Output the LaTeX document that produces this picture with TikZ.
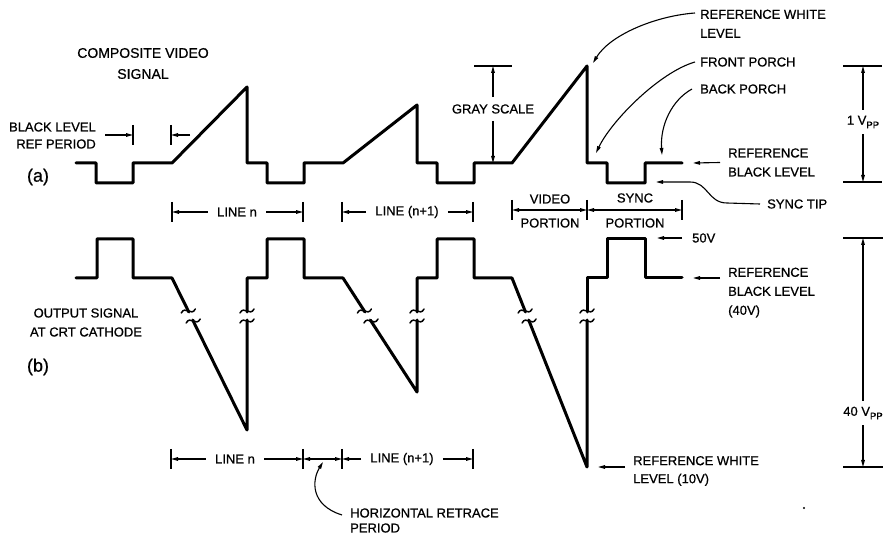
\documentclass[tikz,border=0pt]{standalone}
\usepackage{fontspec}
\setmainfont{Liberation Sans}[FakeBold=0.7]
\usetikzlibrary{arrows.meta}
\newcommand\brkmark[2]{\draw[brk] ({#1-7},{#2+2}) .. controls ({#1-3},{#2-6}) and ({#1+3},{#2+6}) .. ({#1+7},{#2-2});}
\newcommand\vpp[1]{#1 V\raisebox{-3.5pt}{\fontsize{9.5}{9.5}\selectfont PP}}
\begin{document}
\begin{tikzpicture}[x=1pt,y=-1pt,
  sig/.style={line width=3pt, line join=round, line cap=round},
  dim/.style={line width=1.1pt},
  arr/.style={dim, -{Triangle[length=7pt,width=3.6pt]}},
  darr/.style={dim, {Triangle[length=7pt,width=3.6pt]}-{Triangle[length=7pt,width=3.6pt]}},
  lbl/.style={font=\fontsize{13}{18}\selectfont, inner sep=0pt},
  brk/.style={line width=1.5pt, line cap=round},
  tick/.style={dim}
]
\useasboundingbox (0,0) rectangle (887,537);

% ---------------- (a) composite video signal ----------------
\draw[sig] (76,163) -- (96,163) -- (96,183) -- (133,183) -- (133,163) -- (172,163)
  -- (247,87) -- (247,163) -- (267,163) -- (267,183) -- (304,183) -- (304,163) -- (343,163)
  -- (417,105) -- (417,163) -- (437,163) -- (437,183) -- (474,183) -- (474,163) -- (512,163)
  -- (587,66) -- (587,163) -- (607,163) -- (607,183) -- (645,183) -- (645,163) -- (682,163);

\node[lbl, font=\fontsize{14}{21}\selectfont, align=center] (title) at (143,63.5) {COMPOSITE VIDEO\\SIGNAL};
\node[lbl, font=\fontsize{13}{17}\selectfont, align=right, anchor=east] (blr) at (96,135.5) {BLACK LEVEL\\REF PERIOD};
\node[lbl, font=\fontsize{18}{18}\selectfont] (la) at (38,177) {(a)};

% black level ref period
\coordinate (blrA) at (133,135);
\coordinate (blrB) at (171,135);
\draw[tick] (133,125) -- (133,145);
\draw[tick] (171,125) -- (171,145);
\draw[arr] ([xshift=9pt]blr.east |- blrA) -- (blrA);
\draw[arr] (190,135) -- (blrB);

% gray scale
\node[lbl, inner ysep=7pt] (gs) at (493,109) {GRAY SCALE};
\coordinate (gsT) at (493,66);
\coordinate (gsB) at (493,163);
\draw[tick] (474,66) -- (512,66);
\draw[arr] (gs.north) -- (gsT);
\draw[arr] (gs.south) -- (gsB);

% 1 Vpp
\node[lbl, inner ysep=6pt] (v1) at (863,122) {\vpp{1}};
\coordinate (v1T) at (863,66);
\coordinate (v1B) at (863,182);
\draw[tick] (843,66) -- (882,66);
\draw[tick] (843,182) -- (882,182);
\draw[arr] (v1.north) -- (v1T);
\draw[arr] (v1.south) -- (v1B);

% callouts top right
\node[lbl, font=\fontsize{13}{19}\selectfont, align=left, anchor=north west] (rwl) at (700,9.5) {REFERENCE WHITE\\LEVEL};
\node[lbl, anchor=west] (fp) at (700,62) {FRONT PORCH};
\node[lbl, anchor=west] (bp) at (700,89) {BACK PORCH};
\node[lbl, font=\fontsize{13}{19}\selectfont, align=left, anchor=west] (rbl) at (728,162.5) {REFERENCE\\BLACK LEVEL};
\node[lbl, anchor=west] (st) at (767,204) {SYNC TIP};

\coordinate (rwlS) at (695,13);
\coordinate (rwlE) at (593,63);
\coordinate (fpE) at (596,153);
\coordinate (bpE) at (662,155);
\coordinate (rblE) at (693,163);
\coordinate (stE) at (656,182);
\draw[arr] (rwlS) .. controls (655,16) and (610,35) .. (rwlE);
\draw[arr] ([xshift=-5pt]fp.west) .. controls (660,72) and (612,120) .. (fpE);
\draw[arr] ([xshift=-8pt]bp.west) .. controls (672,100) and (660,125) .. (bpE);
\draw[arr] ([xshift=-8pt]rbl.west) -- (rblE);
\draw[arr] ([xshift=-7pt]st.west) -- (727,203) .. controls (708,203) and (708,182) .. (690,182) -- (stE);

% line n / line n+1 (top)
\node[lbl, inner xsep=9pt] (lnA) at (237,212) {LINE n};
\node[lbl, inner xsep=9pt] (lmA) at (407,212) {LINE (n+1)};
\coordinate (lnA1) at (172,212);
\coordinate (lnA2) at (303,212);
\coordinate (lmA1) at (342,212);
\coordinate (lmA2) at (473,212);
\foreach \x in {172,303,342,473} {\draw[tick] (\x,202) -- (\x,222);}
\draw[arr] (lnA.west) -- (lnA1);
\draw[arr] (lnA.east) -- (lnA2);
\draw[arr] (lmA.west) -- (lmA1);
\draw[arr] (lmA.east) -- (lmA2);

% video / sync portion
\foreach \x in {512,587,682} {\draw[tick] (\x,200) -- (\x,220);}
\coordinate (vp1) at (512,210);
\coordinate (vp2) at (587,210);
\coordinate (sp2) at (682,210);
\draw[darr] (vp1) -- (vp2);
\draw[darr] (vp2) -- (sp2);
\node[lbl] (vid) at (550,199) {VIDEO};
\node[lbl] (vpo) at (550,223) {PORTION};
\node[lbl] (syn) at (635,198) {SYNC};
\node[lbl] (spo) at (635,223) {PORTION};

% ---------------- (b) output signal at CRT cathode ----------------
\draw[sig] (76,278) -- (97,278) -- (97,239) -- (133,239) -- (133,278) -- (172,278) -- (188.8,312);
\draw[sig] (192.7,320) -- (247,430) -- (247,320);
\draw[sig] (247,312) -- (247,278) -- (267,278) -- (267,239) -- (304,239) -- (304,278) -- (343,278) -- (365,312);
\draw[sig] (370.3,320) -- (417,392) -- (417,320);
\draw[sig] (417,312) -- (417,278) -- (437,278) -- (437,239) -- (474,239) -- (474,278) -- (512,278) -- (525.5,312);
\draw[sig] (528.7,320) -- (587,467) -- (587,320);
\draw[sig] (587,312) -- (587,278) -- (607,278) -- (607,239) -- (645,239) -- (645,278) -- (682,278);

\brkmark{188.3}{311}\brkmark{193.2}{321}
\brkmark{247}{311}\brkmark{247}{321}
\brkmark{364.4}{311}\brkmark{371}{321}
\brkmark{417}{311}\brkmark{417}{321}
\brkmark{525.1}{311}\brkmark{529.1}{321}
\brkmark{587}{311}\brkmark{587}{321}

\node[lbl, font=\fontsize{13}{19}\selectfont, align=center] (os) at (86,322.5) {OUTPUT SIGNAL\\AT CRT CATHODE};
\node[lbl, font=\fontsize{18}{18}\selectfont] (lb) at (38,367) {(b)};

% 50V and reference black (40V)
\node[lbl, anchor=west] (v50) at (692,238) {50V};
\coordinate (v50E) at (657,238);
\draw[arr] ([xshift=-10pt]v50.west) -- (v50E);
\node[lbl, font=\fontsize{13}{19}\selectfont, align=left, anchor=north west] (rbb) at (728,267.5) {REFERENCE\\BLACK LEVEL\\(40V)};
\coordinate (rbbS) at (720,278);
\coordinate (rbbE) at (693,278);
\draw[arr] (rbbS) -- (rbbE);

% 40 Vpp
\node[lbl, inner ysep=6pt] (v40) at (863,413) {\vpp{40}};
\coordinate (v40T) at (863,238);
\coordinate (v40B) at (863,467);
\draw[tick] (843,238) -- (883,238);
\draw[tick] (843,467) -- (883,467);
\draw[arr] (v40.north) -- (v40T);
\draw[arr] (v40.south) -- (v40B);

% reference white (10V)
\node[lbl, font=\fontsize{13}{18}\selectfont, align=left, anchor=west] (rwb) at (633,471) {REFERENCE WHITE\\LEVEL (10V)};
\coordinate (rwbE) at (598,467);
\draw[arr] ([xshift=-8pt]rwb.west |- rwbE) -- (rwbE);

% line n / line n+1 (bottom)
\node[lbl, inner xsep=9pt] (lnB) at (235,459) {LINE n};
\node[lbl, inner xsep=9pt] (lmB) at (402,459) {LINE (n+1)};
\coordinate (lnB1) at (171,459);
\coordinate (lnB2) at (303,459);
\coordinate (lmB1) at (342,459);
\coordinate (lmB2) at (473,459);
\foreach \x in {171,303,342,473} {\draw[tick] (\x,449) -- (\x,469);}
\draw[arr] (lnB.west) -- (lnB1);
\draw[arr] (lnB.east) -- (lnB2);
\draw[darr] (lnB2) -- (lmB1);
\draw[arr] (lmB.west) -- (lmB1);
\draw[arr] (lmB.east) -- (lmB2);

% horizontal retrace period
\node[lbl, font=\fontsize{13}{15}\selectfont, align=left, anchor=west] (hr) at (350,520.5) {HORIZONTAL RETRACE\\PERIOD};
\coordinate (hrS) at (342,515);
\coordinate (hrE) at (323,462);
\draw[arr] (hrS) .. controls (310,505) and (312,480) .. (hrE);

% stray dot
\fill (804,508) circle (1.2pt);
\end{tikzpicture}
\end{document}
